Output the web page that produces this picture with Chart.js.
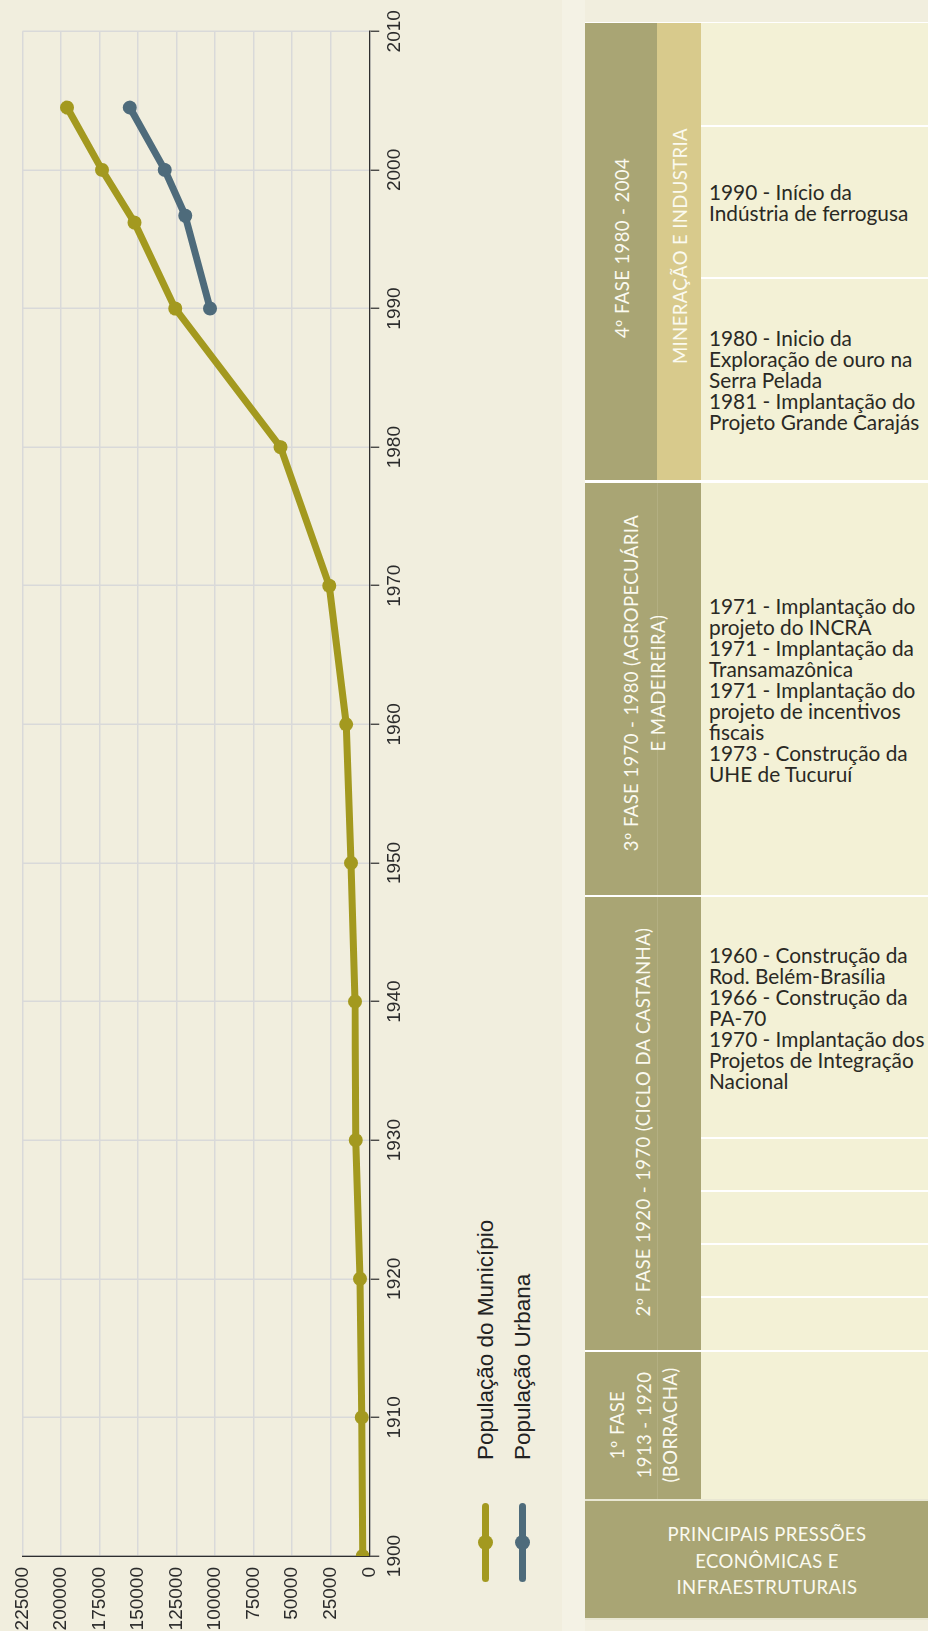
<!DOCTYPE html>
<html lang="pt">
<head>
<meta charset="utf-8">
<title>População e pressões econômicas</title>
<script src="https://cdn.jsdelivr.net/npm/chart.js@4.4.0/dist/chart.umd.min.js"></script>
<style>
    html, body { margin: 0; padding: 0; }
    body {
        width: 928px; height: 1631px; overflow: hidden; position: relative;
        background: #f1eede; font-family: Lato, "Open Sans", sans-serif;
    }
    /* the chart is drawn landscape and turned a quarter to the left */
    #rot {
        position: absolute; left: 0; top: 0; width: 1631px; height: 560px;
        transform-origin: 0 0; transform: translate(0, 1631px) rotate(-90deg);
    }
    #rot canvas { position: absolute; left: 0; top: 0; }
    .leg {
        position: absolute; left: 49px; height: 20px; display: flex; align-items: center;
        font-family: "Liberation Sans", Arial, sans-serif; font-size: 22.5px; color: #222;
        white-space: nowrap;
    }
    .sym { position: relative; width: 79px; height: 20px; margin-right: 43px; flex: none; }
    .sym::before {
        content: ""; position: absolute; left: 0; right: 0; top: 6.5px; height: 7px;
        border-radius: 4px; background: var(--c);
    }
    .sym::after {
        content: ""; position: absolute; left: 32px; top: 2.5px; width: 15px; height: 15px;
        border-radius: 50%; background: var(--c);
    }
    .strip { position: absolute; left: 562px; top: 0; width: 23px; height: 1631px; background: #f4f2e5; }
    .tbl { position: absolute; left: 585px; top: 22px; width: 366px; height: 1597px; background: #ffffff; }
    .cell { position: absolute; box-sizing: border-box; }
    .olive { background: #a9a574; }
    .tan { background: #d8ca8c; }
    .cont {
        background: #f3f1d6; display: flex; align-items: center; padding-left: 8px;
        font-size: 20.8px; line-height: 21px; color: #2a2924; white-space: nowrap;
    }
    .lab {
        position: absolute; transform: translate(-50%, -50%) rotate(-90deg);
        white-space: nowrap; text-align: center; color: #fbfaf0;
        font-size: 18.5px; line-height: 26.5px; letter-spacing: 0.4px;
    }
    .vline { position: absolute; width: 1px; background: #b3af82; }
</style>
</head>
<body>
<div class="strip"></div>

<div id="rot">
    <canvas id="popChart" width="1631" height="440"></canvas>
    <div class="leg" style="top:475.7px"><span class="sym" style="--c:#a3991f"></span><span id="leg0"></span></div>
    <div class="leg" style="top:512.7px"><span class="sym" style="--c:#4e6b7b"></span><span id="leg1"></span></div>
</div>

<div class="tbl"></div>

<!-- 4ª fase -->
<div class="cell olive" style="left:585px;top:23px;width:72px;height:457px"></div>
<div class="cell tan" style="left:657px;top:23px;width:44px;height:457px"></div>
<div class="cell cont" style="left:701px;top:23px;width:250px;height:102px"></div>
<div class="cell cont" style="left:701px;top:127px;width:250px;height:150px">1990 - Início da<br>Indústria de ferrogusa</div>
<div class="cell cont" style="left:701px;top:279px;width:250px;height:201px">1980 - Inicio da<br>Exploração de ouro na<br>Serra Pelada<br>1981 - Implantação do<br>Projeto Grande Carajás</div>
<div class="lab" style="left:622px;top:248px">4º FASE 1980 - 2004</div>
<div class="lab" style="left:680px;top:246px">MINERAÇÃO E INDUSTRIA</div>

<!-- 3ª fase -->
<div class="cell olive" style="left:585px;top:483px;width:116px;height:412px"></div>
<div class="vline" style="left:657px;top:483px;height:412px"></div>
<div class="cell cont" style="left:701px;top:483px;width:250px;height:412px">1971 - Implantação do<br>projeto do INCRA<br>1971 - Implantação da<br>Transamazônica<br>1971 - Implantação do<br>projeto de incentivos<br>fiscais<br>1973 - Construção da<br>UHE de Tucuruí</div>
<div class="lab" style="left:644px;top:683px">3º FASE 1970 - 1980 (AGROPECUÁRIA<br>E MADEIREIRA)</div>

<!-- 2ª fase -->
<div class="cell olive" style="left:585px;top:897px;width:116px;height:453px"></div>
<div class="vline" style="left:657px;top:897px;height:453px"></div>
<div class="cell cont" style="left:701px;top:897px;width:250px;height:240px">1960 - Construção da<br>Rod. Belém-Brasília<br>1966 - Construção da<br>PA-70<br>1970 - Implantação dos<br>Projetos de Integração<br>Nacional</div>
<div class="cell cont" style="left:701px;top:1139px;width:250px;height:51px"></div>
<div class="cell cont" style="left:701px;top:1192px;width:250px;height:51px"></div>
<div class="cell cont" style="left:701px;top:1245px;width:250px;height:51px"></div>
<div class="cell cont" style="left:701px;top:1298px;width:250px;height:52px"></div>
<div class="lab" style="left:643px;top:1122px">2º FASE 1920 - 1970 (CICLO DA CASTANHA)</div>

<!-- 1ª fase -->
<div class="cell olive" style="left:585px;top:1352px;width:116px;height:147px"></div>
<div class="vline" style="left:657px;top:1352px;height:147px"></div>
<div class="cell cont" style="left:701px;top:1352px;width:250px;height:147px"></div>
<div class="lab" style="left:644px;top:1425px">1º FASE<br>1913 - 1920<br>(BORRACHA)</div>

<!-- cabeçalho -->
<div class="cell" style="left:585px;top:1499px;width:366px;height:2px;background:#e9e7d3"></div>
<div class="cell olive" style="left:585px;top:1501px;width:366px;height:117px"></div>
<div class="cell" style="left:585px;top:1618px;width:366px;height:2px;background:#e9e7d3"></div>
<div class="lab" style="left:767px;top:1561px;transform:translate(-50%,-50%)">PRINCIPAIS PRESSÕES<br>ECONÔMICAS E<br>INFRAESTRUTURAIS</div>

<script>
    // População do município (censos) e população urbana
    const years = [1900, 1910, 1920, 1930, 1940, 1950, 1960, 1970, 1980, 1990, 1996.2, 2000, 2004.5];
    const popMunicipio = [4300, 4900, 6000, 8800, 9200, 11800, 15000, 26000, 57600, 125900, 152300, 173400, 196000];
    const urbanYears = [1990, 1996.7, 2000, 2004.5];
    const popUrbana = [103300, 119400, 132700, 155300];

    const yearTicks = [1900, 1910, 1920, 1930, 1940, 1950, 1960, 1970, 1980, 1990, 2000, 2010];
    const popTicks = [0, 25000, 50000, 75000, 100000, 125000, 150000, 175000, 200000, 225000];

    const seriesLabels = ["População do Município", "População Urbana"];
    const seriesColors = ["#a3991f", "#4e6b7b"];

    const tickFont = { family: "'Liberation Sans', Arial, sans-serif", size: 19 };

    function toPoints(xs, ys) {
        return xs.map((x, i) => ({ x: x, y: ys[i] }));
    }

    function lineSet(label, points, color) {
        return {
            label: label,
            data: points,
            borderColor: color,
            backgroundColor: color,
            borderWidth: 7,
            borderJoinStyle: "round",
            borderCapStyle: "round",
            pointRadius: 7,
            pointBorderWidth: 0,
            pointBackgroundColor: color,
            tension: 0,
            fill: false
        };
    }

    document.getElementById("leg0").textContent = seriesLabels[0];
    document.getElementById("leg1").textContent = seriesLabels[1];

    const ctx = document.getElementById("popChart").getContext("2d");
    new Chart(ctx, {
        type: "line",
        data: {
            datasets: [
                lineSet(seriesLabels[0], toPoints(years, popMunicipio), seriesColors[0]),
                lineSet(seriesLabels[1], toPoints(urbanYears, popUrbana), seriesColors[1])
            ]
        },
        options: {
            responsive: false,
            animation: false,
            layout: { padding: { top: 20.7, right: 31.3, bottom: 0, left: 0 } },
            plugins: {
                legend: { display: false },
                tooltip: { enabled: false }
            },
            scales: {
                x: {
                    type: "linear",
                    min: 1900,
                    max: 2010,
                    afterBuildTicks: s => { s.ticks = yearTicks.map(v => ({ value: v })); },
                    afterFit: s => { s.height = 70.7; },
                    grid: { color: "#d9d9d9", lineWidth: 1.5, tickLength: 10, tickColor: "#3a3a3a", tickWidth: 1.3 },
                    border: { color: "#2e2e2e", width: 1.3 },
                    ticks: {
                        font: tickFont, color: "#2b2b2b", padding: 4,
                        maxRotation: 0, autoSkip: false,
                        callback: v => String(v)
                    }
                },
                y: {
                    type: "linear",
                    min: 0,
                    max: 225000,
                    afterBuildTicks: s => { s.ticks = popTicks.map(v => ({ value: v })); },
                    afterFit: s => { s.width = 75; },
                    grid: { color: "#d9d9d9", lineWidth: 1.5, drawTicks: false },
                    border: { color: "#2e2e2e", width: 1.3 },
                    ticks: {
                        font: tickFont, color: "#2b2b2b", padding: 11, autoSkip: false,
                        callback: v => String(v)
                    }
                }
            }
        }
    });
</script>
</body>
</html>
